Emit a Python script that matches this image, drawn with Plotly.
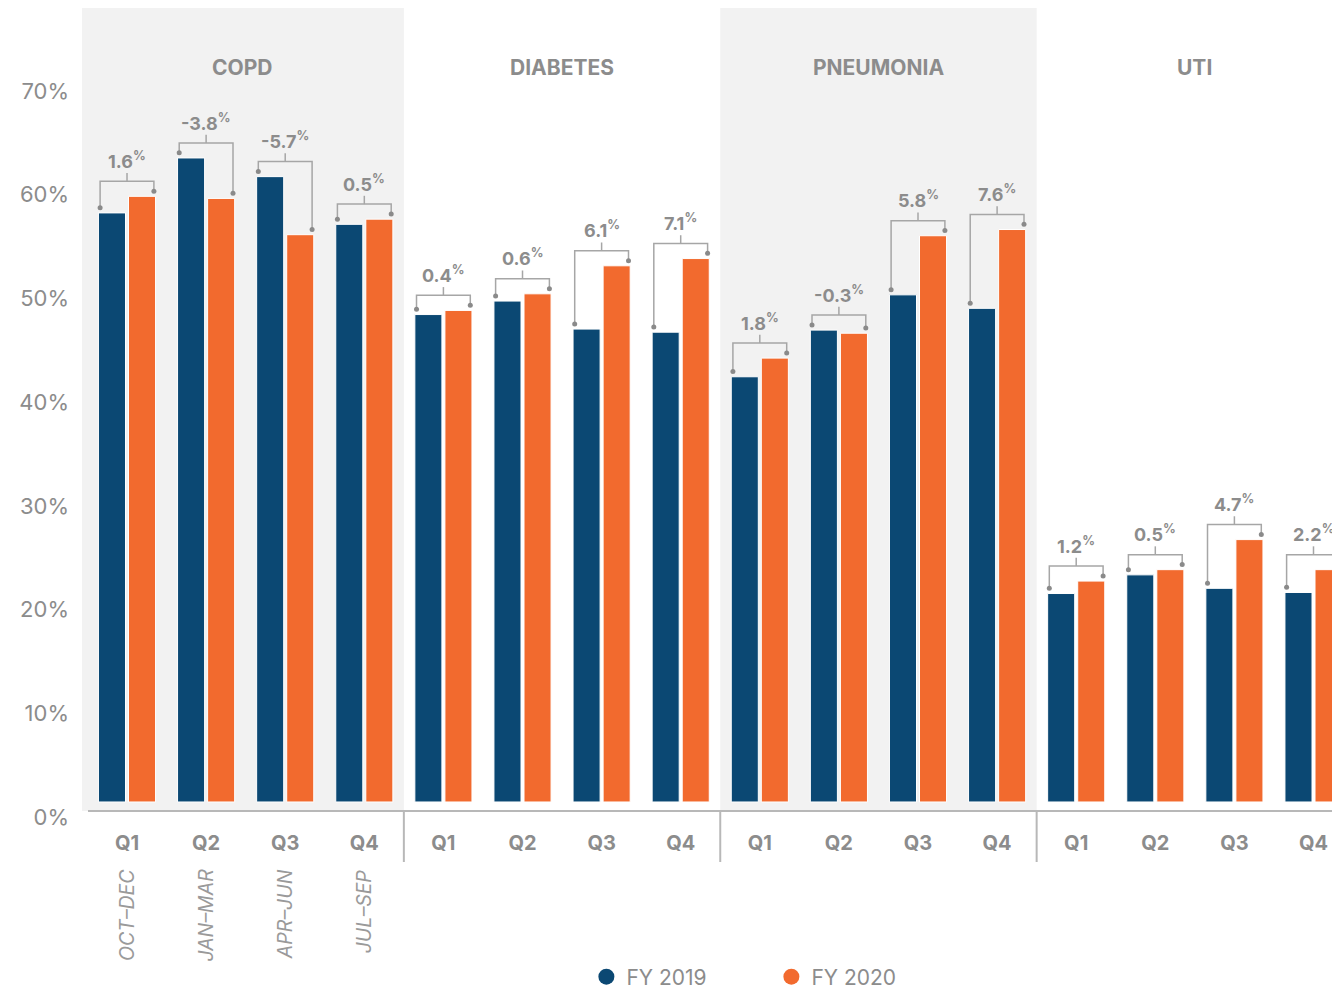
import plotly.graph_objects as go

# ---------------- data ----------------
panels = ["COPD", "DIABETES", "PNEUMONIA", "UTI"]
quarters = ["Q1", "Q2", "Q3", "Q4"]
months = ["OCT–DEC", "JAN–MAR", "APR–JUN", "JUL–SEP"]
fy2019 = [56.8, 62.1, 60.3, 55.7,
          47.0, 48.3, 45.6, 45.3,
          41.0, 45.5, 48.9, 47.6,
          20.1, 21.9, 20.6, 20.2]
fy2020 = [58.4, 58.2, 54.7, 56.2,
          47.4, 49.0, 51.7, 52.4,
          42.8, 45.2, 54.6, 55.2,
          21.3, 22.4, 25.3, 22.4]
changes = ["1.6", "-3.8", "-5.7", "0.5",
           "0.4", "0.6", "6.1", "7.1",
           "1.8", "-0.3", "5.8", "7.6",
           "1.2", "0.5", "4.7", "2.2"]
y_ticks = [0, 10, 20, 30, 40, 50, 60, 70]

# ---------------- style ----------------
NAVY = "#0b4873"
ORANGE = "#f26a2e"
GREY = "#8c8c8c"
PANEL = "#f2f2f2"
LINE = "#b8b8b8"
FONT = "Inter, Roboto, sans-serif"

xs = list(range(len(fy2019)))
x_left, x_right = -0.569, 15.335

fig = go.Figure()
fig.add_trace(go.Bar(x=xs, y=fy2019, name="FY 2019", marker=dict(color=NAVY, line=dict(color="white", width=1)),
                     showlegend=False, hoverinfo="skip"))
fig.add_trace(go.Bar(x=xs, y=fy2020, name="FY 2020", marker=dict(color=ORANGE, line=dict(color="white", width=1)),
                     showlegend=False, hoverinfo="skip"))

# brackets
bx, by, dx, dy = [], [], [], []
annotations = []
half = 0.34
for i, (a, b, c) in enumerate(zip(fy2019, fy2020, changes)):
    top = max(a, b) + 1.45
    da, db = a + 0.5, b + 0.5
    bx += [i - half, i - half, i + half, i + half, None, i, i, None]
    by += [da, top, top, db, None, top, top + 0.8, None]
    dx += [i - half, i + half]
    dy += [da, db]
    annotations.append(dict(x=i, y=top + 0.8, xref="x", yref="y", text=f"<b>{c}</b><sup><b>%</b></sup>",
                            showarrow=False, yanchor="bottom", yshift=-1,
                            font=dict(family=FONT, size=18, color=GREY)))
fig.add_trace(go.Scatter(x=bx, y=by, mode="lines", line=dict(color="#a6a6a6", width=1.5),
                         showlegend=False, hoverinfo="skip"))
fig.add_trace(go.Scatter(x=dx, y=dy, mode="markers", marker=dict(color="#8a8a8a", size=5),
                         showlegend=False, hoverinfo="skip"))

# legend-only entries
fig.add_trace(go.Scatter(x=[None], y=[None], mode="markers", name="FY 2019",
                         marker=dict(color=NAVY, size=17, symbol="circle")))
fig.add_trace(go.Scatter(x=[None], y=[None], mode="markers", name="FY 2020",
                         marker=dict(color=ORANGE, size=17, symbol="circle")))

# panels
shapes = []
bounds = [x_left, 3.5, 7.5, 11.5, x_right + 0.3]
for k, name in enumerate(panels):
    if k % 2 == 0:
        shapes.append(dict(type="rect", xref="x", yref="paper", x0=bounds[k], x1=bounds[k + 1], y0=0, y1=1,
                           fillcolor=PANEL, line=dict(width=0), layer="below"))
    cx = (bounds[0] + bounds[1]) / 2 if k == 0 else 4 * k + 1.5
    annotations.append(dict(x=cx, y=0.9265, xref="x", yref="paper", text=f"<b>{name}</b>", showarrow=False,
                            xanchor="center", yanchor="middle",
                            font=dict(family=FONT, size=21, color=GREY)))
for b in bounds[1:4]:
    shapes.append(dict(type="line", xref="x", yref="paper", x0=b, x1=b, y0=0, y1=-0.0635,
                       line=dict(color=LINE, width=2)))
shapes.append(dict(type="line", xref="x", yref="paper", x0=-0.493, x1=x_right + 0.3, y0=0, y1=0,
                   line=dict(color=LINE, width=2)))

for i, m in enumerate(months):
    annotations.append(dict(x=i, y=-0.0697, xref="x", yref="paper", text=m, textangle=-90, showarrow=False,
                            yanchor="top", xanchor="center",
                            font=dict(family=FONT, size=19.5, color="#9a9a9a", style="italic")))

fig.update_layout(
    width=1332, height=981,
    margin=dict(l=74, r=0, t=0, b=178, autoexpand=False),
    paper_bgcolor="white", plot_bgcolor="white",
    barmode="group", bargap=0.24, bargroupgap=0.1,
    shapes=shapes, annotations=annotations,
    font=dict(family=FONT, color=GREY),
    legend=dict(orientation="h", x=0.548, xanchor="center", y=-0.2067, yanchor="middle",
                font=dict(family=FONT, size=21, color=GREY), entrywidth=140),
    xaxis=dict(range=[x_left, x_right], tickvals=xs, ticktext=quarters * 4, showgrid=False, zeroline=False,
               showline=False, ticks="", ticklabelstandoff=18, automargin=False,
               tickfont=dict(family=FONT, size=20, color=GREY, weight="bold")),
    yaxis=dict(range=[-0.87, 76.56], tickvals=y_ticks, ticktext=[f"{v}%" for v in y_ticks],
               showgrid=False, zeroline=False, showline=False, ticks="", ticklabelshift=15,
               ticklabelstandoff=12, automargin=False, tickfont=dict(family=FONT, size=22, color=GREY)),
)

fig.write_html("out.html")
